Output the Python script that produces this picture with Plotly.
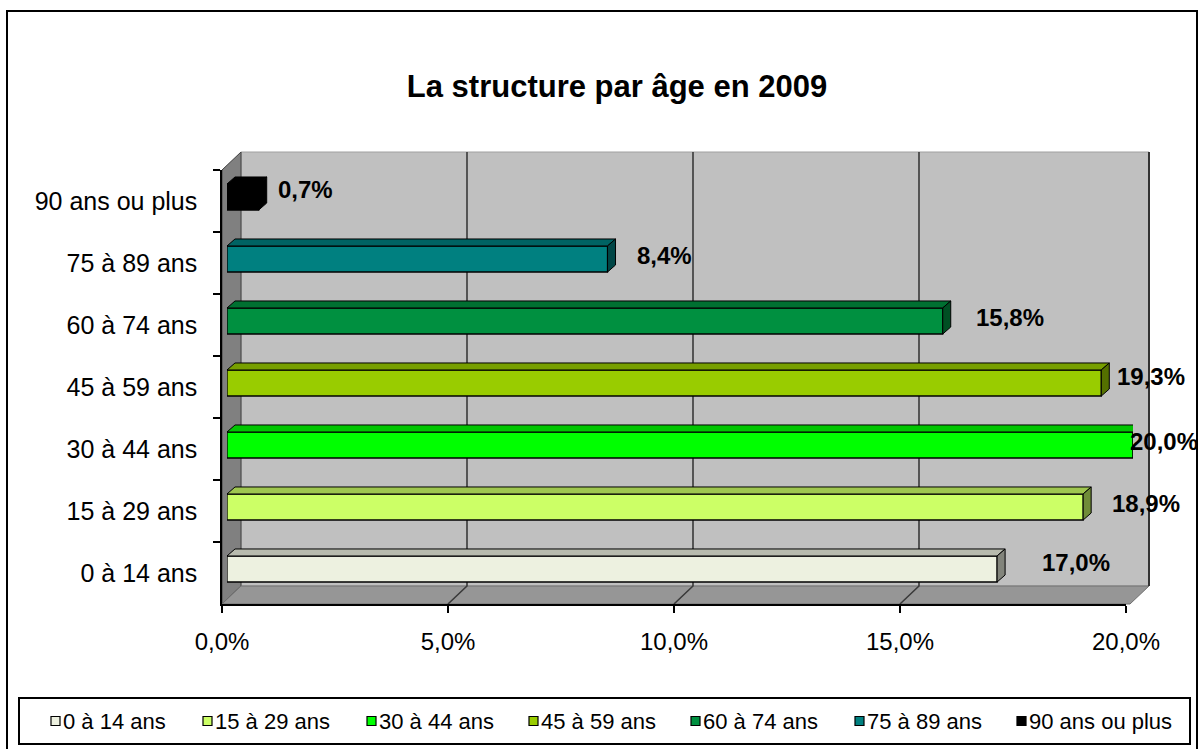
import plotly.graph_objects as go

# ---- data -------------------------------------------------------------
categories = ["0 à 14 ans", "15 à 29 ans", "30 à 44 ans", "45 à 59 ans",
              "60 à 74 ans", "75 à 89 ans", "90 ans ou plus"]
shares = [17.0, 18.9, 20.0, 19.3, 15.8, 8.4, 0.7]          # % of population
colors = ["#EDF1E0", "#CCFF66", "#00FF00", "#99CC00",
          "#009040", "#008080", "#000000"]
x_tick_values = [0, 5, 10, 15, 20]
x_tick_labels = ["0,0%", "5,0%", "10,0%", "15,0%", "20,0%"]
chart_title = "La structure par âge en 2009"

# ---- layout geometry (pixels) -----------------------------------------
W, H = 1201, 749
FONT = "Arial, Liberation Sans, sans-serif"

FRONT_X0, FRONT_X1 = 222, 1126          # front plane: 0 % .. 20 %
FRONT_Y0, FRONT_Y1 = 170, 604           # front plane: top .. bottom
WALL_DX, WALL_DY = 19, 18               # back wall depth offset
BAR_X0, BAR_X1 = 227, 1133              # bar plane (mid depth)
BAR_Y0, BAR_Y1 = 166, 600
BAR_WIDTH = 0.42                        # fraction of a category band
BAR_DEPTH_X, BAR_DEPTH_Y = 8, 7         # extrusion of each bar
X_MAX = 20

# label nudges (px) relative to each bar end, bottom to top
label_dx = [79, 63, 31, 50, 67, 57, 47]
label_dy = [7, 4, 4, 7, 4, 4, 8]

# legend key positions (left edge of each swatch, px)
legend_x = [51, 203, 367, 529, 691, 855, 1017]
LEGEND_Y = 721
SWATCH = 9


def px(x):
    return x / W


def py(y):
    return 1 - y / H


def shade(hex_color, f):
    h = hex_color.lstrip("#")
    r, g, b = (int(h[i:i + 2], 16) for i in (0, 2, 4))
    return "#%02X%02X%02X" % (int(r * f), int(g * f), int(b * f))


fig = go.Figure()

# bars, one series per age group
for i, (cat, v, c) in enumerate(zip(categories, shares, colors)):
    fig.add_trace(go.Bar(
        x=[v], y=[i], orientation="h", name=cat, width=BAR_WIDTH,
        marker=dict(color=c, line=dict(color="#000000", width=1.3)),
        xaxis="x", yaxis="y", hoverinfo="skip", showlegend=False,
    ))

# invisible trace carrying the visible category axis
fig.add_trace(go.Scatter(
    x=[0] * len(categories), y=categories, mode="markers",
    marker=dict(opacity=0), showlegend=False, hoverinfo="skip",
    xaxis="x2", yaxis="y2",
))

shapes = []
annotations = []

# walls of the 3D box
bx0, bx1 = FRONT_X0 + WALL_DX, FRONT_X1 + WALL_DX + 4
by0, by1 = FRONT_Y0 - WALL_DY, FRONT_Y1 - WALL_DY


def poly(points):
    return "M " + " L ".join(f"{px(a):.5f},{py(b):.5f}" for a, b in points) + " Z"


shapes.append(dict(type="rect", xref="paper", yref="paper", layer="below",
                   x0=px(bx0), x1=px(bx1), y0=py(by1), y1=py(by0),
                   fillcolor="#C0C0C0", line=dict(color="#A0A0A0", width=1)))
shapes.append(dict(type="path", xref="paper", yref="paper", layer="below",
                   path=poly([(FRONT_X0, FRONT_Y0), (bx0, by0), (bx0, by1), (FRONT_X0, FRONT_Y1)]),
                   fillcolor="#808080", line=dict(color="#404040", width=1)))
shapes.append(dict(type="path", xref="paper", yref="paper", layer="below",
                   path=poly([(FRONT_X0, FRONT_Y1), (bx0, by1), (bx1, by1), (FRONT_X1 + 4, FRONT_Y1)]),
                   fillcolor="#969696", line=dict(color="#707070", width=1)))
# right edge of back wall
shapes.append(dict(type="line", xref="paper", yref="paper", layer="below",
                   x0=px(bx1), x1=px(bx1), y0=py(by1), y1=py(by0),
                   line=dict(color="#333333", width=2)))

# gridlines: back wall + continuation across the floor
for v in x_tick_values[1:-1]:
    shapes.append(dict(
        type="path", xref="x2", yref="paper", layer="below",
        xsizemode="pixel", xanchor=v,
        path=f"M 0,{py(FRONT_Y1):.5f} L {WALL_DX},{py(by1):.5f} L {WALL_DX},{py(by0):.5f}",
        line=dict(color="#3A3A3A", width=1.6),
    ))

# 3D top and side faces of the bars
half = BAR_WIDTH / 2 * (BAR_Y1 - BAR_Y0) / len(categories)
ddx = BAR_DEPTH_X * X_MAX / (BAR_X1 - BAR_X0)
for i, (v, c) in enumerate(zip(shares, colors)):
    top_c = shade(c, 0.78) if c != "#000000" else "#000000"
    side_c = shade(c, 0.55) if c != "#000000" else "#000000"
    shapes.append(dict(
        type="path", xref="x", yref="y", ysizemode="pixel", yanchor=i,
        path=(f"M 0,{half:.2f} L {ddx:.4f},{half + BAR_DEPTH_Y:.2f} "
              f"L {v + ddx:.4f},{half + BAR_DEPTH_Y:.2f} L {v},{half:.2f} Z"),
        fillcolor=top_c, line=dict(color="#000000", width=1),
    ))
    shapes.append(dict(
        type="path", xref="x", yref="y", ysizemode="pixel", yanchor=i,
        path=(f"M {v},{half:.2f} L {v + ddx:.4f},{half + BAR_DEPTH_Y:.2f} "
              f"L {v + ddx:.4f},{-half + BAR_DEPTH_Y:.2f} L {v},{-half:.2f} Z"),
        fillcolor=side_c, line=dict(color="#000000", width=1),
    ))

# legend: frame, swatches and names
shapes.append(dict(type="rect", xref="paper", yref="paper", layer="below",
                   x0=px(19), x1=px(1190), y0=py(744), y1=py(698),
                   line=dict(color="#000000", width=2), fillcolor="rgba(0,0,0,0)"))
for lx, cat, c in zip(legend_x, categories, colors):
    shapes.append(dict(type="rect", xref="paper", yref="paper",
                       x0=px(lx), x1=px(lx + SWATCH),
                       y0=py(LEGEND_Y + SWATCH / 2), y1=py(LEGEND_Y - SWATCH / 2),
                       fillcolor=c, line=dict(color="#000000", width=1.2)))
    annotations.append(dict(
        x=px(lx + SWATCH + 1), y=py(LEGEND_Y), xref="paper", yref="paper",
        xanchor="left", yanchor="middle", text=cat, showarrow=False,
        font=dict(family=FONT, size=22, color="#000000"),
    ))

# outer frame
shapes.append(dict(type="rect", xref="paper", yref="paper", layer="below",
                   x0=px(7), x1=px(1197), y0=py(765), y1=py(11),
                   line=dict(color="#000000", width=2), fillcolor="rgba(0,0,0,0)"))

# value labels
for i, v in enumerate(shares):
    annotations.append(dict(
        x=v, y=i, xref="x", yref="y", xanchor="center", yanchor="middle",
        text="<b>" + f"{v:.1f}".replace(".", ",") + "%</b>",
        showarrow=False, xshift=label_dx[i], yshift=label_dy[i],
        font=dict(family=FONT, size=24, color="#000000"),
    ))

fig.update_layout(
    width=W, height=H, autosize=False,
    margin=dict(l=0, r=0, t=0, b=0, autoexpand=False),
    paper_bgcolor="#FFFFFF", plot_bgcolor="rgba(0,0,0,0)",
    barmode="overlay", showlegend=False,
    font=dict(family=FONT, color="#000000"),
    title=dict(text="<b>" + chart_title + "</b>", x=px(617), y=py(86),
               xref="paper", yref="paper", xanchor="center", yanchor="middle",
               font=dict(family=FONT, size=31, color="#000000")),
    xaxis=dict(domain=[px(BAR_X0), px(BAR_X1)], range=[0, X_MAX], visible=False,
               anchor="y", fixedrange=True),
    yaxis=dict(domain=[py(BAR_Y1), py(BAR_Y0)], range=[-0.5, len(categories) - 0.5],
               visible=False, anchor="x", fixedrange=True),
    xaxis2=dict(domain=[px(FRONT_X0), px(FRONT_X1)], range=[0, X_MAX], anchor="y2",
                tickvals=x_tick_values, ticktext=x_tick_labels,
                ticks="outside", ticklen=7, tickwidth=1.5, tickcolor="#000000",
                showline=True, linecolor="#000000", linewidth=1.5,
                showgrid=False, zeroline=False, ticklabelstandoff=8,
                tickfont=dict(family=FONT, size=24, color="#000000")),
    yaxis2=dict(domain=[py(FRONT_Y1), py(FRONT_Y0)], anchor="x2", type="category",
                categoryorder="array", categoryarray=categories,
                range=[-0.5, len(categories) - 0.5], tickson="boundaries",
                ticks="outside", ticklen=7, tickwidth=1.5, tickcolor="#000000",
                showline=True, linecolor="#000000", linewidth=1.5,
                showgrid=False, zeroline=False, ticklabelstandoff=18,
                tickfont=dict(family=FONT, size=25, color="#000000")),
    shapes=shapes,
    annotations=annotations,
)

fig.write_html("out.html")
